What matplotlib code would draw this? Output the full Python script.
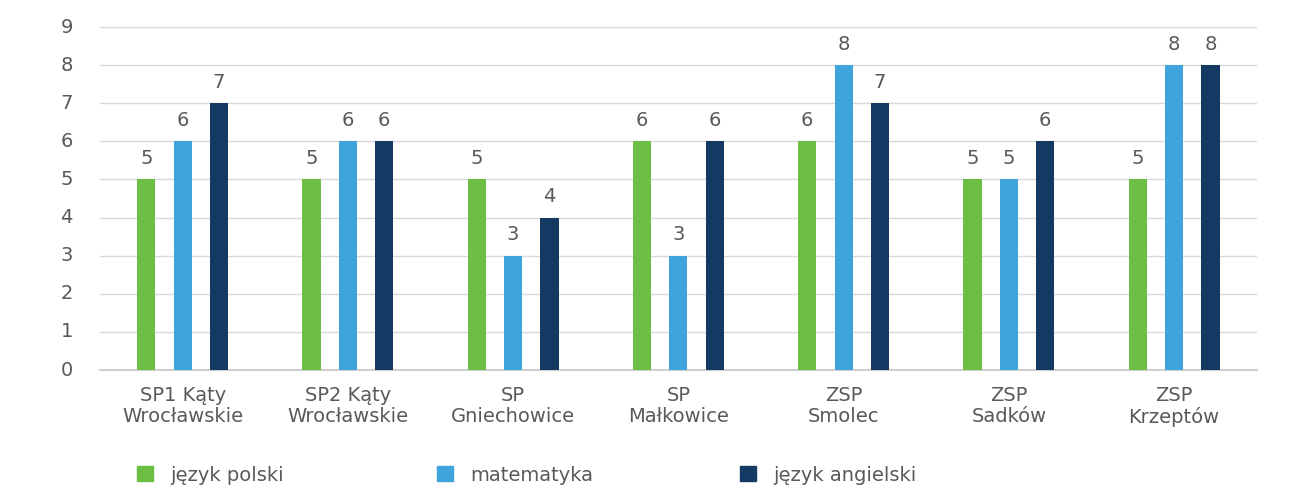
import numpy as np
import matplotlib
matplotlib.use("Agg")
import matplotlib.pyplot as plt
import matplotlib.transforms as mtransforms
from matplotlib.patches import Patch

plt.rcParams['font.family'] = ['DejaVu Sans']

schools = ["SP1 Kąty\nWrocławskie", "SP2 Kąty\nWrocławskie", "SP\nGniechowice",
           "SP\nMałkowice", "ZSP\nSmolec", "ZSP\nSadków", "ZSP\nKrzeptów"]
polski = [5, 5, 5, 6, 6, 5, 5]
matematyka = [6, 6, 3, 3, 8, 5, 8]
angielski = [7, 6, 4, 6, 7, 6, 8]
series_names = ["język polski", "matematyka", "język angielski"]
colors = ["#6DBE45", "#3FA3DC", "#143A63"]
text_color = "#595959"

fig = plt.figure(figsize=(12.97, 4.89), dpi=100)
ax = fig.add_axes([0.0771, 0.2413, 0.8919, 0.7014])

x = np.arange(len(schools))
offset = 0.22
width = 0.11
for i, (vals, col) in enumerate(zip([polski, matematyka, angielski], colors)):
    bars = ax.bar(x + (i - 1) * offset, vals, width, color=col, zorder=3)
    ax.bar_label(bars, padding=9, fontsize=14, color=text_color)

ax.set_xlim(-0.5, len(schools) - 0.5)
ax.set_ylim(0, 9)
ax.set_yticks(range(0, 10))
ax.set_xticks(x)
ax.set_xticklabels(schools, linespacing=1.1)
ax.tick_params(axis='y', length=0, pad=19.5, labelsize=14, labelcolor=text_color)
ax.tick_params(axis='x', length=0, pad=11, labelsize=14, labelcolor=text_color)
shift = mtransforms.ScaledTranslation(0, 3 / 100, fig.dpi_scale_trans)
for lab in ax.get_yticklabels():
    lab.set_transform(lab.get_transform() + shift)
ax.grid(axis='y', color="#D9D9D9", linewidth=1, zorder=0)
for s in ['top', 'right', 'left']:
    ax.spines[s].set_visible(False)
ax.spines['bottom'].set_color("#D0D0D0")
ax.spines['bottom'].set_linewidth(1.5)

leg_x = [0.0996, 0.3309, 0.5645]
for name, col, lx in zip(series_names, colors, leg_x):
    fig.legend(handles=[Patch(color=col)], labels=[name], loc='center left',
               bbox_to_anchor=(lx, 0.027), frameon=False, fontsize=14,
               handlelength=0.82, handleheight=0.82, handletextpad=0.88,
               labelcolor=text_color, borderaxespad=0)

fig.savefig("out.png", dpi=100)
